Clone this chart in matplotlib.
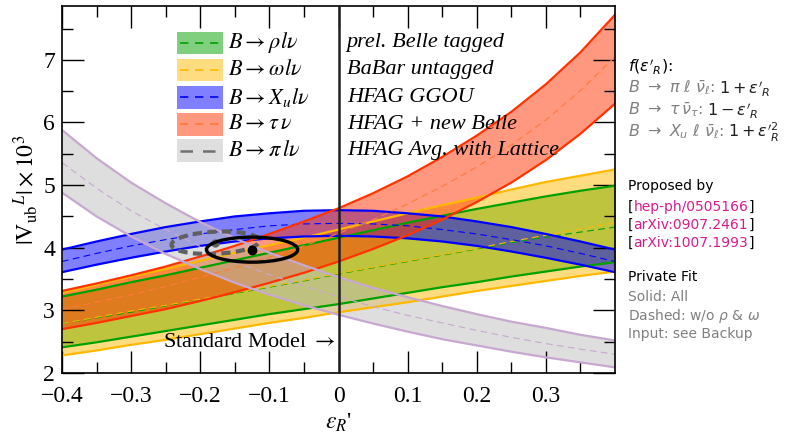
import numpy as np
import matplotlib
matplotlib.use("Agg")
import matplotlib.pyplot as plt
from matplotlib.patches import Ellipse, Rectangle

plt.rcParams['font.family'] = 'serif'
plt.rcParams['font.serif'] = ['Liberation Serif', 'DejaVu Serif']
plt.rcParams['mathtext.fontset'] = 'stix'

# epsilon_R' grid (read every 0.05)
eps = [-0.40, -0.35, -0.30, -0.25, -0.20, -0.15, -0.10, -0.05, 0.00,
       0.05, 0.10, 0.15, 0.20, 0.25, 0.30, 0.35, 0.40]

# B -> rho l nu (green)
rho_lo = [2.41, 2.49, 2.58, 2.67, 2.76, 2.85, 2.94, 3.02, 3.10, 3.19, 3.28, 3.37, 3.45, 3.54, 3.62, 3.70, 3.77]
rho_c = [2.79, 2.88, 2.97, 3.07, 3.17, 3.27, 3.37, 3.47, 3.58, 3.68, 3.78, 3.88, 3.98, 4.08, 4.17, 4.25, 4.33]
rho_hi = [3.22, 3.33, 3.45, 3.56, 3.68, 3.80, 3.92, 4.04, 4.16, 4.28, 4.40, 4.51, 4.62, 4.72, 4.82, 4.91, 4.99]

# B -> omega l nu (yellow)
omg_lo = [2.28, 2.36, 2.45, 2.53, 2.62, 2.71, 2.80, 2.88, 2.97, 3.05, 3.13, 3.22, 3.31, 3.39, 3.47, 3.55, 3.62]
omg_c = [2.79, 2.89, 2.99, 3.08, 3.18, 3.28, 3.38, 3.48, 3.59, 3.69, 3.79, 3.89, 3.99, 4.10, 4.20, 4.30, 4.40]
omg_hi = [3.28, 3.41, 3.54, 3.66, 3.79, 3.92, 4.04, 4.16, 4.29, 4.42, 4.55, 4.68, 4.80, 4.93, 5.05, 5.15, 5.25]

# B -> X_u l nu (blue)
xu_lo = [3.61, 3.73, 3.84, 3.94, 4.03, 4.10, 4.15, 4.18, 4.19, 4.18, 4.15, 4.10, 4.03, 3.94, 3.84, 3.73, 3.61]
xu_c = [3.78, 3.91, 4.03, 4.13, 4.22, 4.29, 4.35, 4.38, 4.39, 4.38, 4.35, 4.29, 4.22, 4.13, 4.03, 3.91, 3.78]
xu_hi = [3.97, 4.10, 4.22, 4.33, 4.42, 4.50, 4.55, 4.59, 4.60, 4.59, 4.55, 4.50, 4.42, 4.33, 4.22, 4.10, 3.97]

# B -> tau nu (red)
tau_lo = [2.70, 2.80, 2.91, 3.02, 3.15, 3.29, 3.44, 3.60, 3.78, 3.98, 4.20, 4.45, 4.73, 5.04, 5.40, 5.82, 6.30]
tau_c = [3.02, 3.13, 3.25, 3.38, 3.53, 3.68, 3.85, 4.03, 4.23, 4.45, 4.70, 4.98, 5.29, 5.64, 6.04, 6.51, 7.05]
tau_hi = [3.31, 3.43, 3.56, 3.70, 3.86, 4.03, 4.22, 4.42, 4.63, 4.87, 5.14, 5.45, 5.79, 6.17, 6.61, 7.12, 7.72]

# B -> pi l nu (gray)
pi_lo = [4.88, 4.50, 4.18, 3.90, 3.66, 3.44, 3.25, 3.08, 2.93, 2.79, 2.66, 2.54, 2.44, 2.34, 2.25, 2.17, 2.09]
pi_c = [5.36, 4.95, 4.59, 4.29, 4.02, 3.78, 3.57, 3.39, 3.22, 3.06, 2.92, 2.80, 2.68, 2.57, 2.47, 2.38, 2.30]
pi_hi = [5.88, 5.43, 5.04, 4.71, 4.41, 4.15, 3.92, 3.72, 3.53, 3.36, 3.21, 3.07, 2.94, 2.82, 2.72, 2.61, 2.52]

# fit results
fit_all = (-0.125, 3.97)      # solid ellipse centre / best fit
fit_noV = (-0.178, 4.08)      # dashed ellipse (w/o rho & omega)

bands = [
    (rho_lo, rho_c, rho_hi, (0.0, 0.63, 0.0), '#00a000', '#00a000', r'$B\rightarrow\rho l\nu$', 'prel. Belle tagged'),
    (omg_lo, omg_c, omg_hi, (1.0, 0.733, 0.0), '#ffb800', '#ffb800', r'$B\rightarrow\omega l\nu$', 'BaBar untagged'),
    (xu_lo, xu_c, xu_hi, (0.0, 0.0, 1.0), '#0000ff', '#0000ff', r'$B\rightarrow X_u l\nu$', 'HFAG GGOU'),
    (tau_lo, tau_c, tau_hi, (1.0, 0.2, 0.0), '#ff3300', '#ff7a3c', r'$B\rightarrow\tau\,\nu$', 'HFAG + new Belle'),
    (pi_lo, pi_c, pi_hi, (0.75, 0.75, 0.75), '#c8a8d0', '#c8a8d0', r'$B\rightarrow\pi\,l\nu$', 'HFAG Avg. with Lattice'),
]

fig = plt.figure(figsize=(7.91, 4.38), dpi=100)
ax = fig.add_axes([0.0784, 0.1484, 0.6991, 0.8379])

for lo, c, hi, fill, edge, dash, lab, src in bands:
    ax.fill_between(eps, lo, hi, color=fill, alpha=0.5, lw=0)
    ax.plot(eps, lo, color=edge, lw=1.6)
    ax.plot(eps, hi, color=edge, lw=1.6)
    ax.plot(eps, c, color=dash, lw=0.8, dashes=(6, 4))

# fit ellipses
ax.add_patch(Ellipse(fit_noV, 0.125, 0.36, angle=-4, fill=False, ec='#606060',
                     lw=3, ls=(0, (2.2, 1.3)), zorder=5))
ax.plot(*fit_noV, 'o', color='#606060', ms=5, zorder=5)
ax.add_patch(Ellipse(fit_all, 0.132, 0.40, fill=False, ec='black', lw=2.4, zorder=6))
ax.plot(*fit_all, 'o', color='black', ms=6, zorder=6)

ax.axvline(0, color='#202020', lw=1.8, zorder=7)

# legend drawn by hand
row_y = [7.27, 6.84, 6.40, 5.97, 5.55]
for (lo, c, hi, fill, edge, dash, lab, src), yy in zip(bands, row_y):
    ax.add_patch(Rectangle((-0.233, yy - 0.18), 0.066, 0.36, color=fill, alpha=0.5, lw=0, zorder=8))
    ax.plot([-0.229, -0.171], [yy, yy], color=dash if dash != '#c8a8d0' else '#707070',
            lw=1.2 if dash != '#c8a8d0' else 1.8, dashes=(5, 4), zorder=9)
    ax.text(-0.16, yy, lab, fontsize=16, va='center', ha='left', zorder=9)
    ax.text(0.012, yy, src, fontsize=16, style='italic', va='center', ha='left', zorder=9)

ax.text(-0.005, 2.33, r'Standard Model $\rightarrow$', fontsize=16, ha='right', va='bottom', zorder=9)

ax.set_xlim(-0.4, 0.4)
ax.set_ylim(2, 7.86)
ax.set_xticks([-0.4, -0.3, -0.2, -0.1, 0, 0.1, 0.2, 0.3])
ax.set_xticklabels(['\u22120.4', '\u22120.3', '\u22120.2', '\u22120.1', '0', '0.1', '0.2', '0.3'])
ax.set_xticks(np.arange(-0.35, 0.4, 0.1), minor=True)
ax.set_yticks([2, 3, 4, 5, 6, 7])
ax.set_yticks(np.arange(2.5, 7.6, 1.0), minor=True)
ax.tick_params(which='both', direction='in', top=True, right=True, labelsize=17)
ax.tick_params(which='major', length=16, width=1)
ax.tick_params(which='minor', length=8, width=1)
ax.tick_params(axis='x', pad=9)
ax.tick_params(axis='y', pad=5)
for s in ax.spines.values():
    s.set_linewidth(1.2)

ax.set_xlabel(r"$\epsilon_R$'", fontsize=17, labelpad=4)
ax.set_ylabel(r"$|\mathrm{V}_{\mathrm{ub}}{}^{L}|\times 10^3$", fontsize=17, labelpad=2)

# right-hand notes
gx = 628 / 791
def fy(py):
    return 1 - py / 438

grey = '#808080'
mag = '#d81b8c'
kw = dict(fontsize=10, family='DejaVu Sans', math_fontfamily='dejavusans', va='center', ha='left')
mkw = dict(kw, fontsize=11.5)


def chain(parent, s, color, dx=0, size=10):
    # put a text right after another one
    return ax.annotate(s, xy=(1, 0.5), xycoords=parent, xytext=(dx, 0), textcoords='offset points',
                       va='center', ha='left', color=color, fontsize=size, family='DejaVu Sans',
                       math_fontfamily='dejavusans', annotation_clip=False)


fig.text(gx, fy(66), r"$f(\epsilon'_R)$:", color='black', **mkw)
t = fig.text(gx, fy(88), r"$B\ \rightarrow\ \pi\ \ell\ \bar{\nu}_\ell$:", color=grey, **mkw)
chain(t, r"$1+\epsilon'_R$", '#202020', dx=3, size=11.5)
t = fig.text(gx, fy(110), r"$B\ \rightarrow\ \tau\,\bar{\nu}_\tau$:", color=grey, **mkw)
chain(t, r"$1-\epsilon'_R$", '#202020', dx=3, size=11.5)
t = fig.text(gx, fy(132), r"$B\ \rightarrow\ X_u\ \ell\ \bar{\nu}_\ell$:", color=grey, **mkw)
chain(t, r"$1+\epsilon'^{2}_R$", '#202020', dx=3, size=11.5)

fig.text(gx, fy(186), 'Proposed by', color='black', **kw)
for py, ref in [(207, 'hep-ph/0505166'), (225, 'arXiv:0907.2461'), (243, 'arXiv:1007.1993')]:
    t0 = fig.text(gx, fy(py), '[', color='black', **kw)
    t1 = chain(t0, ref, mag)
    chain(t1, ']', 'black')

fig.text(gx, fy(277), 'Private Fit', color='black', **kw)
fig.text(gx, fy(297), 'Solid: All', color=grey, **kw)
fig.text(gx, fy(316), r'Dashed: w/o $\rho$ & $\omega$', color=grey, **kw)
fig.text(gx, fy(334), 'Input: see Backup', color=grey, **kw)

fig.savefig('out.png', dpi=100)
